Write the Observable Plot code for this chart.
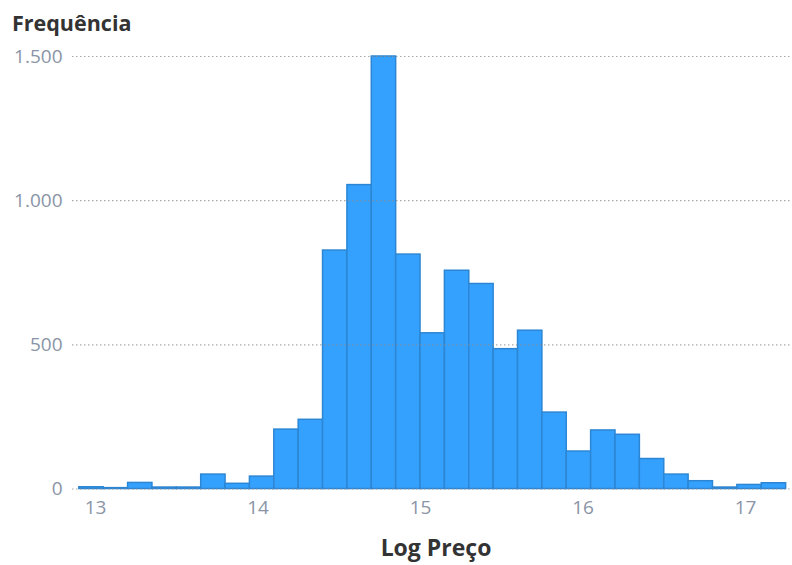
<!DOCTYPE html>
<html>
<head>
<meta charset="utf-8">
<script src="https://cdn.jsdelivr.net/npm/d3@7"></script>
<script src="https://cdn.jsdelivr.net/npm/@observablehq/plot@0.6"></script>
<style>
  html, body { margin: 0; padding: 0; background: #fff; }
  #wrap { width: 792px; height: 565px; position: relative; overflow: hidden; }
  .title { height: 33px; padding-top: 7px; padding-left: 12px; line-height: 32px;
           font-family: "Open Sans", sans-serif; font-weight: 700; font-size: 21.5px; color: #333; }
  .xlabel { height: 35px; line-height: 35px; text-align: center; padding-left: 82px; padding-right: 2px;
            font-family: "Open Sans", sans-serif; font-weight: 700; font-size: 23px; color: #333; }
</style>
</head>
<body>
<div id="wrap">
  <div class="title">Frequência</div>
  <div id="chart"></div>
  <div class="xlabel">Log Preço</div>
</div>
<script>
// Histogram bin edges (Log Preço) and counts (Frequência)
const binEdges = [12.90, 13.05, 13.20, 13.35, 13.50, 13.65, 13.80, 13.95, 14.10, 14.25,
                  14.40, 14.55, 14.70, 14.85, 15.00, 15.15, 15.30, 15.45, 15.60, 15.75,
                  15.90, 16.05, 16.20, 16.35, 16.50, 16.65, 16.80, 16.95, 17.10, 17.25];
const counts = [6, 3, 21, 5, 5, 50, 18, 43, 206, 240,
                827, 1054, 1500, 813, 540, 757, 711, 485, 549, 265,
                130, 203, 188, 104, 50, 27, 5, 14, 20];
const xTicks = [13, 14, 15, 16, 17];
const yTicks = [0, 500, 1000, 1500];

const bins = counts.map((c, i) => ({lo: binEdges[i], hi: binEdges[i + 1], count: c}));
const ptBR = d3.formatLocale({decimal: ",", thousands: ".", grouping: [3], currency: ["R$", ""]});
const fmt = ptBR.format(",");

const chart = Plot.plot({
  width: 792,
  height: 490,
  marginTop: 16,
  marginBottom: 41.5,
  marginLeft: 72,
  marginRight: 2,
  style: {fontFamily: "'Open Sans', sans-serif", fontSize: "19px", color: "#8a94a6", background: "#fff"},
  x: {domain: [12.858, 17.277], ticks: xTicks, tickFormat: d => String(d), tickSize: 0, tickPadding: 11, label: null},
  y: {domain: [0, 1500], ticks: yTicks, tickFormat: fmt, tickSize: 0, tickPadding: 10, label: null},
  marks: [
    Plot.rectY(bins, {x1: "lo", x2: "hi", y: "count", fill: "#35a1fe", stroke: "#2c86d3", strokeWidth: 1.5}),
    Plot.ruleY(yTicks, {stroke: "#8c8c8c", strokeOpacity: 0.75, strokeDasharray: "1.5,2.5", strokeWidth: 1.2})
  ]
});
document.getElementById("chart").appendChild(chart);
</script>
</body>
</html>
